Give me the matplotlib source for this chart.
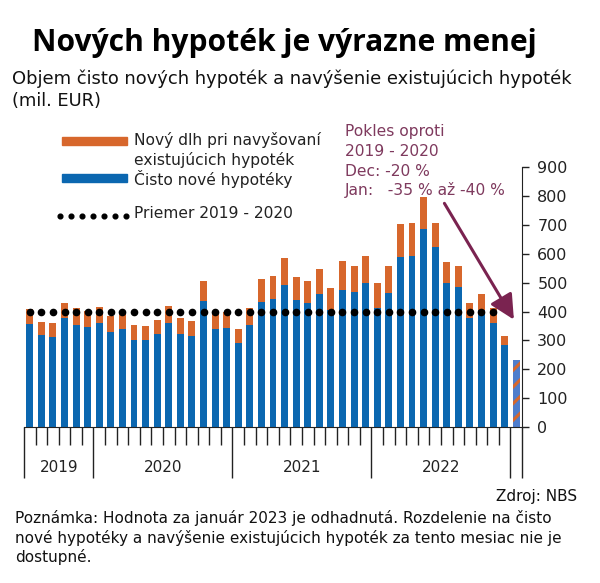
import matplotlib
matplotlib.use("Agg")
import matplotlib.pyplot as plt
import matplotlib.transforms as mtransforms
from matplotlib.patches import Rectangle
from matplotlib.lines import Line2D
import numpy as np

# monthly data, Jul 2019 - Jan 2023 (mil. EUR)
months = ["2019-07", "2019-08", "2019-09", "2019-10", "2019-11", "2019-12",
          "2020-01", "2020-02", "2020-03", "2020-04", "2020-05", "2020-06",
          "2020-07", "2020-08", "2020-09", "2020-10", "2020-11", "2020-12",
          "2021-01", "2021-02", "2021-03", "2021-04", "2021-05", "2021-06",
          "2021-07", "2021-08", "2021-09", "2021-10", "2021-11", "2021-12",
          "2022-01", "2022-02", "2022-03", "2022-04", "2022-05", "2022-06",
          "2022-07", "2022-08", "2022-09", "2022-10", "2022-11", "2022-12"]
ciste_nove = [358, 320, 311, 378, 355, 345,
              362, 328, 339, 303, 300, 323, 361, 323, 316, 435, 339, 343,
              290, 352, 434, 442, 492, 439, 428, 461, 406, 475, 468, 498,
              412, 466, 589, 594, 686, 623, 498, 484, 377, 405, 362, 285]
navysenie = [52, 45, 48, 52, 57, 58,
             55, 56, 58, 50, 51, 49, 58, 54, 52, 71, 58, 54,
             51, 62, 79, 80, 92, 81, 79, 85, 76, 101, 89, 96,
             87, 93, 116, 112, 111, 85, 73, 74, 53, 56, 49, 32]
jan_2023_odhad = 233
priemer_2019_2020 = 400

years = ["2019", "2020", "2021", "2022"]
year_bounds = [-0.5, 5.5, 17.5, 29.5, 41.5, 42.5]

blue = "#0B67B0"
orange = "#D7672C"
maroon = "#7A2350"
text_maroon = "#7F3A5E"

plt.rcParams["font.family"] = "DejaVu Sans"
plt.rcParams["hatch.linewidth"] = 2.2

fig = plt.figure(figsize=(6, 5.83), dpi=100)
ax = fig.add_axes([0.04, 0.2676, 0.83, 0.4455])

x = np.arange(len(months))
ax.bar(x, ciste_nove, width=0.6, color=blue, linewidth=0)
ax.bar(x, navysenie, bottom=ciste_nove, width=0.6, color=orange, linewidth=0)
x_jan = len(months)
ax.bar([x_jan], [jan_2023_odhad], width=0.6, color="#4F7DCC",
       edgecolor=orange, hatch="//", linewidth=0)

# average 2019-2020 as dots
ax.plot(x[:41], [priemer_2019_2020] * 41, linestyle="none", marker="o",
        markersize=4.5, color="black", zorder=3)

ax.set_xlim(-0.5, 42.5)
ax.set_ylim(0, 900)
ax.yaxis.tick_right()
ax.set_yticks(range(0, 901, 100))
ax.tick_params(axis="y", direction="out", length=5, width=1, labelsize=11.5,
               pad=6, colors="#222222")
ax.spines["top"].set_visible(False)
ax.spines["left"].set_visible(False)
ax.spines["right"].set_color("#222222")
ax.spines["bottom"].set_color("#222222")

ax.set_xticks(year_bounds)
ax.set_xticklabels([])
ax.set_xticks(np.arange(-0.5, 43, 1), minor=True)
ax.tick_params(axis="x", which="major", direction="out", length=37, width=1,
               color="#222222")
ax.tick_params(axis="x", which="minor", direction="out", length=13, width=1,
               color="#222222")

trans = mtransforms.blended_transform_factory(ax.transData, ax.transAxes)
for i, yr in enumerate(years):
    cx = (year_bounds[i] + year_bounds[i + 1]) / 2
    ax.text(cx, -0.155, yr, transform=trans, ha="center", va="center",
            fontsize=11, color="#222222")

# annotation arrow
ax.annotate("", xy=(41.8, 372), xytext=(35.8, 775),
            arrowprops=dict(arrowstyle="-|>,head_length=1.5,head_width=0.75",
                            color=maroon, lw=2.2, shrinkA=0, shrinkB=0))


def fx(px):
    return px / 600


def fy(py):
    return 1 - py / 583


title = fig.text(fx(32), fy(43), "Nových hypoték je výrazne menej", fontsize=22,
                 fontweight="bold", va="center", ha="left", family="Open Sans")
renderer = fig.canvas.get_renderer()
w = title.get_window_extent(renderer).width
title.set_fontsize(22 * 503 / w)

fig.text(fx(12), fy(79), "Objem čisto nových hypoték a navýšenie existujúcich hypoték",
         fontsize=12.9, va="center", ha="left", color="#111111")
fig.text(fx(12), fy(101), "(mil. EUR)", fontsize=12.9, va="center", ha="left",
         color="#111111")

# legend drawn by hand
fig.patches.append(Rectangle((fx(62), fy(145)), fx(65), 8 / 583, color=orange,
                             transform=fig.transFigure, figure=fig))
fig.patches.append(Rectangle((fx(62), fy(182)), fx(65), 8 / 583, color=blue,
                             transform=fig.transFigure, figure=fig))
fig.lines.append(Line2D(np.linspace(fx(60), fx(126), 7), [fy(216)] * 7,
                        linestyle="none", marker="o", markersize=3.4,
                        color="black", transform=fig.transFigure, figure=fig))
fig.text(fx(134), fy(140), "Nový dlh pri navyšovaní", fontsize=11.2,
         va="center", color="#222222")
fig.text(fx(134), fy(160), "existujúcich hypoték", fontsize=11.2,
         va="center", color="#222222")
fig.text(fx(134), fy(179), "Čisto nové hypotéky", fontsize=11.2,
         va="center", color="#222222")
fig.text(fx(134), fy(214), "Priemer 2019 - 2020", fontsize=11.2,
         va="center", color="#222222")

for py, s in [(132, "Pokles oproti"), (151, "2019 - 2020"),
              (171, "Dec: -20 %"), (190, "Jan:   -35 % až -40 %")]:
    fig.text(fx(345), fy(py), s, fontsize=11.2, va="center", color=text_maroon)

fig.text(fx(577), fy(496), "Zdroj: NBS", fontsize=11, ha="right",
         va="center", color="#111111")
fig.text(fx(15), fy(518), "Poznámka: Hodnota za január 2023 je odhadnutá. Rozdelenie na čisto",
         fontsize=11, va="center", color="#111111")
fig.text(fx(15), fy(538), "nové hypotéky a navýšenie existujúcich hypoték za tento mesiac nie je",
         fontsize=11, va="center", color="#111111")
fig.text(fx(15), fy(557), "dostupné.", fontsize=11, va="center", color="#111111")

fig.savefig("out.png", dpi=100)
